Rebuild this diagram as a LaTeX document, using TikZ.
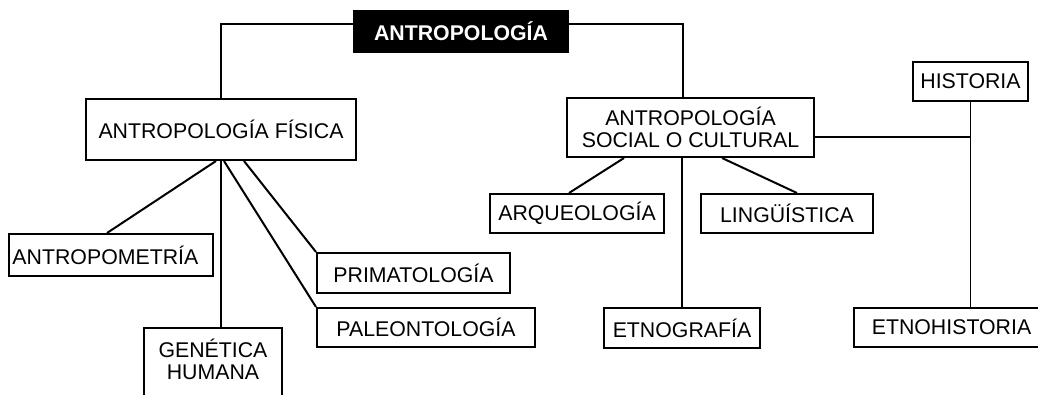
\documentclass[tikz,border=0pt]{standalone}
\usepackage{fontspec}
\setmainfont{Liberation Sans}
\usetikzlibrary{calc}
\begin{document}
\begin{tikzpicture}[x=1pt,y=-1pt,
  box/.style={draw=black,line width=2pt,fill=white,inner sep=0pt,align=center,
    font=\fontsize{21.3}{22.5}\selectfont},
  topbox/.style={box,fill=black,text=white,font=\fontsize{21.3}{22.5}\selectfont\bfseries},
  link/.style={line width=2pt},
  thin/.style={line width=1.2pt}]
\useasboundingbox (0,0) rectangle (1038,395);
\clip (0,0) rectangle (1038,395);
% nodes
\node[topbox,minimum width=214,minimum height=41] (top) at (461,31.5) {ANTROPOLOGÍA};
\node[box,minimum width=270,minimum height=61] (fis) at (221,129.5) {ANTROPOLOGÍA FÍSICA};
\node[box,minimum width=204,minimum height=42,inner xsep=3.5pt,text width=197pt,align=left] (amet) at (111,255) {ANTROPOMETRÍA};
\node[box,minimum width=193,minimum height=40] (prim) at (413.5,273) {PRIMATOLOGÍA};
\node[box,minimum width=218,minimum height=39] (pal) at (426,327.5) {PALEONTOLOGÍA};
\node[box,minimum width=138,anchor=north,text height=29pt,text depth=70pt]
  (gen) at (213,327) {\begin{tabular}[t]{@{}c@{}}GENÉTICA\\HUMANA\end{tabular}};
\node[box,minimum width=247,minimum height=59] (soc) at (690.5,127.5) {ANTROPOLOGÍA\\SOCIAL O CULTURAL};
\node[box,minimum width=174,minimum height=39] (arq) at (577,213.5) {ARQUEOLOGÍA};
\node[box,minimum width=172,minimum height=39] (ling) at (787,213.5) {LINGÜÍSTICA};
\node[box,minimum width=156,minimum height=40] (etg) at (682,328) {ETNOGRAFÍA};
\node[box,minimum width=115,minimum height=39] (hist) at (970.5,81.5) {HISTORIA};
\node[box,minimum width=195,minimum height=39] (etnoh) at (951.5,327.5) {ETNOHISTORIA};
% connectors
\draw[link] ([yshift=7.5pt]top.west) -| (fis.north);
\draw[link] ([yshift=7.5pt]top.east) -| ([xshift=-7.5pt]soc.north);
\draw[link] ([xshift=-5pt]fis.south) -- ([xshift=-4pt]amet.north);
\draw[link] ([xshift=3pt]fis.south) -- (pal.north west);
\draw[link] ([xshift=23pt]fis.south) -- (prim.north west);
\draw[link] (fis.south) -- (fis.south |- gen.north);
\draw[link] ([xshift=-66.5pt]soc.south) -- ([xshift=-8pt]arq.north);
\draw[link] ([xshift=31.5pt]soc.south) -- ([xshift=10pt]ling.north);
\draw[link] (etg.north |- soc.south) -- (etg.north);
\draw[thin] (hist.south) -- (hist.south |- etnoh.north);
\draw[thin] ([yshift=-9.5pt]soc.east) -- ([yshift=-9.5pt]soc.east -| hist.south);
\end{tikzpicture}
\end{document}
